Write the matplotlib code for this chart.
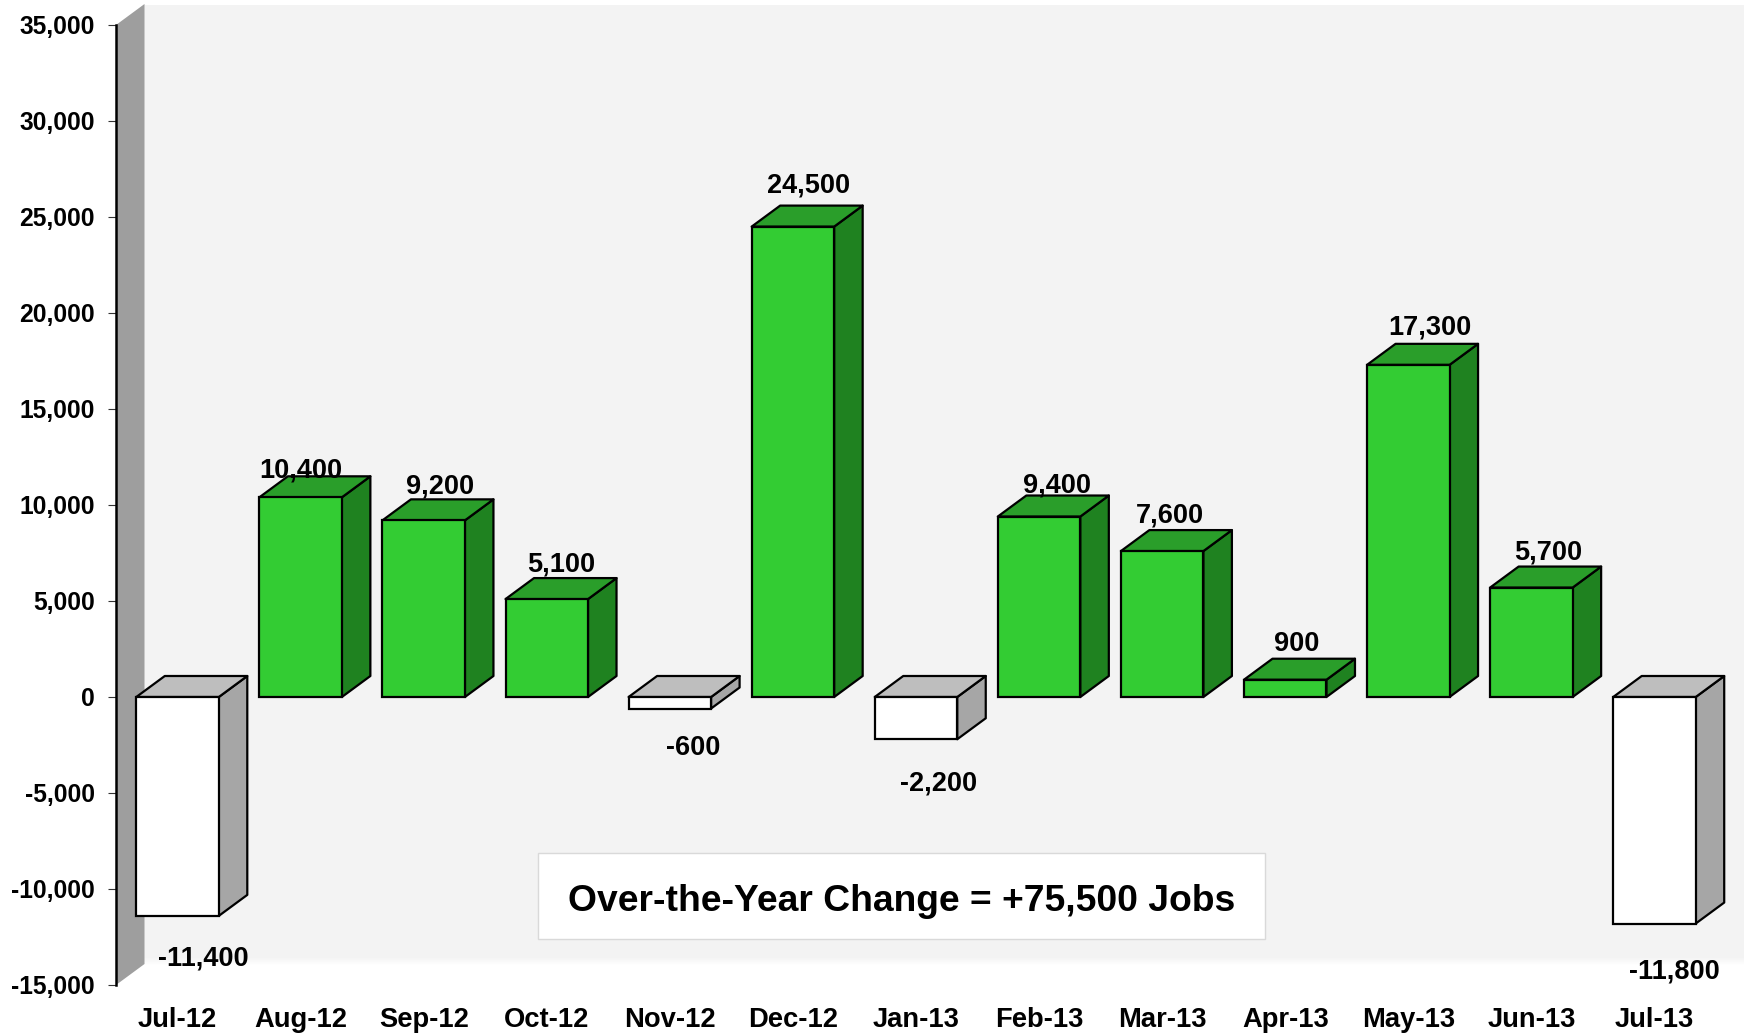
import matplotlib
matplotlib.use("Agg")
import matplotlib.pyplot as plt
from matplotlib.patches import Polygon, Rectangle
from matplotlib.ticker import FuncFormatter

plt.rcParams['font.family'] = ['Liberation Sans', 'DejaVu Sans']
plt.rcParams['font.weight'] = 'bold'

months = ['Jul-12', 'Aug-12', 'Sep-12', 'Oct-12', 'Nov-12', 'Dec-12', 'Jan-13',
          'Feb-13', 'Mar-13', 'Apr-13', 'May-13', 'Jun-13', 'Jul-13']
changes = [-11400, 10400, 9200, 5100, -600, 24500, -2200, 9400, 7600, 900, 17300, 5700, -11800]
y_ticks = list(range(-15000, 35001, 5000))
note = 'Over-the-Year Change = +75,500 Jobs'

# hand-placed label offsets from the bar's front end, pixels
label_dx = [26, 0, 16, 14, 23, 16, 23, 18, 7.5, 11, 21.5, 16.5, 19.5]
label_dy = [-43, 27, 34, 35, -39, 41, -44, 31, 36, 36, 37, 35, -48]

W, H = 1744, 1034
fig = plt.figure(figsize=(W / 100, H / 100), dpi=100, facecolor='white')


def fx(px):
    return px / W


def fy(px):
    return 1 - px / H


# back wall, with a soft fade at the floor
fig.add_artist(Rectangle((fx(144), fy(958)), fx(W - 144), fy(5) - fy(958),
                         transform=fig.transFigure, fc='#F3F3F3', ec='none', zorder=-5))
for k in range(7):
    g = 0xF3 + (0xFF - 0xF3) * (k + 1) / 8
    c = (g / 255, g / 255, g / 255)
    fig.add_artist(Rectangle((fx(144), fy(959 + k)), fx(W - 144), 1 / H,
                             transform=fig.transFigure, fc=c, ec='none', zorder=-5))

ax = fig.add_axes([fx(116), fy(985), fx(1600), fy(25) - fy(985)])
ax.patch.set_visible(False)
ax.set_xlim(-0.5, 12.5)
ax.set_ylim(-15000, 35000)

unit = 1600 / 13
dx = 28.5 / unit
dy = 21 / 960 * 50000
bar_w = 82.5 / unit
edge = 1.6

# side wall
ax.add_patch(Polygon([(-0.5, -15000), (-0.5 + dx, -15000 + dy), (-0.5 + dx, 35000 + dy), (-0.5, 35000)],
                     closed=True, fc='#9E9E9E', ec='none', clip_on=False, zorder=1))

for i, v in enumerate(changes):
    pos = v >= 0
    front, top, side = ('#33CC33', '#2A9E2A', '#1F8220') if pos else ('#FFFFFF', '#BEBEBE', '#A6A6A6')
    x0, x1 = i - bar_w / 2, i + bar_w / 2
    hi, lo = max(v, 0), min(v, 0)
    kw = dict(closed=True, ec='black', lw=edge, clip_on=False, zorder=3, joinstyle='round')
    ax.add_patch(Polygon([(x1, lo), (x1 + dx, lo + dy), (x1 + dx, hi + dy), (x1, hi)], fc=side, **kw))
    ax.add_patch(Polygon([(x0, hi), (x0 + dx, hi + dy), (x1 + dx, hi + dy), (x1, hi)], fc=top, **kw))
    ax.bar(i, hi - lo, bottom=lo, width=bar_w, color=front, edgecolor='black', linewidth=edge, zorder=4)
    ax.annotate(f'{v:,}', xy=(i, v), xytext=(label_dx[i], label_dy[i]), textcoords='offset pixels',
                ha='center', va='center', fontsize=19.5, fontweight='bold', color='black',
                zorder=6, annotation_clip=False)

for s in ('top', 'right', 'bottom'):
    ax.spines[s].set_visible(False)
ax.spines['left'].set_linewidth(1.8)
ax.spines['left'].set_zorder(2)

ax.set_yticks(y_ticks)
ax.yaxis.set_major_formatter(FuncFormatter(lambda v, _: f'{int(v):,}'))
ax.tick_params(axis='y', length=5.8, width=0.8, color='#333333', pad=9.5, labelsize=17.7)
ax.set_xticks(range(len(months)))
ax.set_xticklabels(months)
ax.tick_params(axis='x', length=0, pad=16, labelsize=19.7)

fig.add_artist(Rectangle((fx(538), fy(939)), fx(727), fy(853) - fy(939), transform=fig.transFigure,
                         fc='white', ec='#D9D9D9', lw=1, zorder=9))
fig.text(fx(901.5), fy(901.5), note, ha='center', va='center', fontsize=26.8, fontweight='bold', color='black',
         zorder=10)

fig.savefig('out.png', dpi=100, facecolor='white')
